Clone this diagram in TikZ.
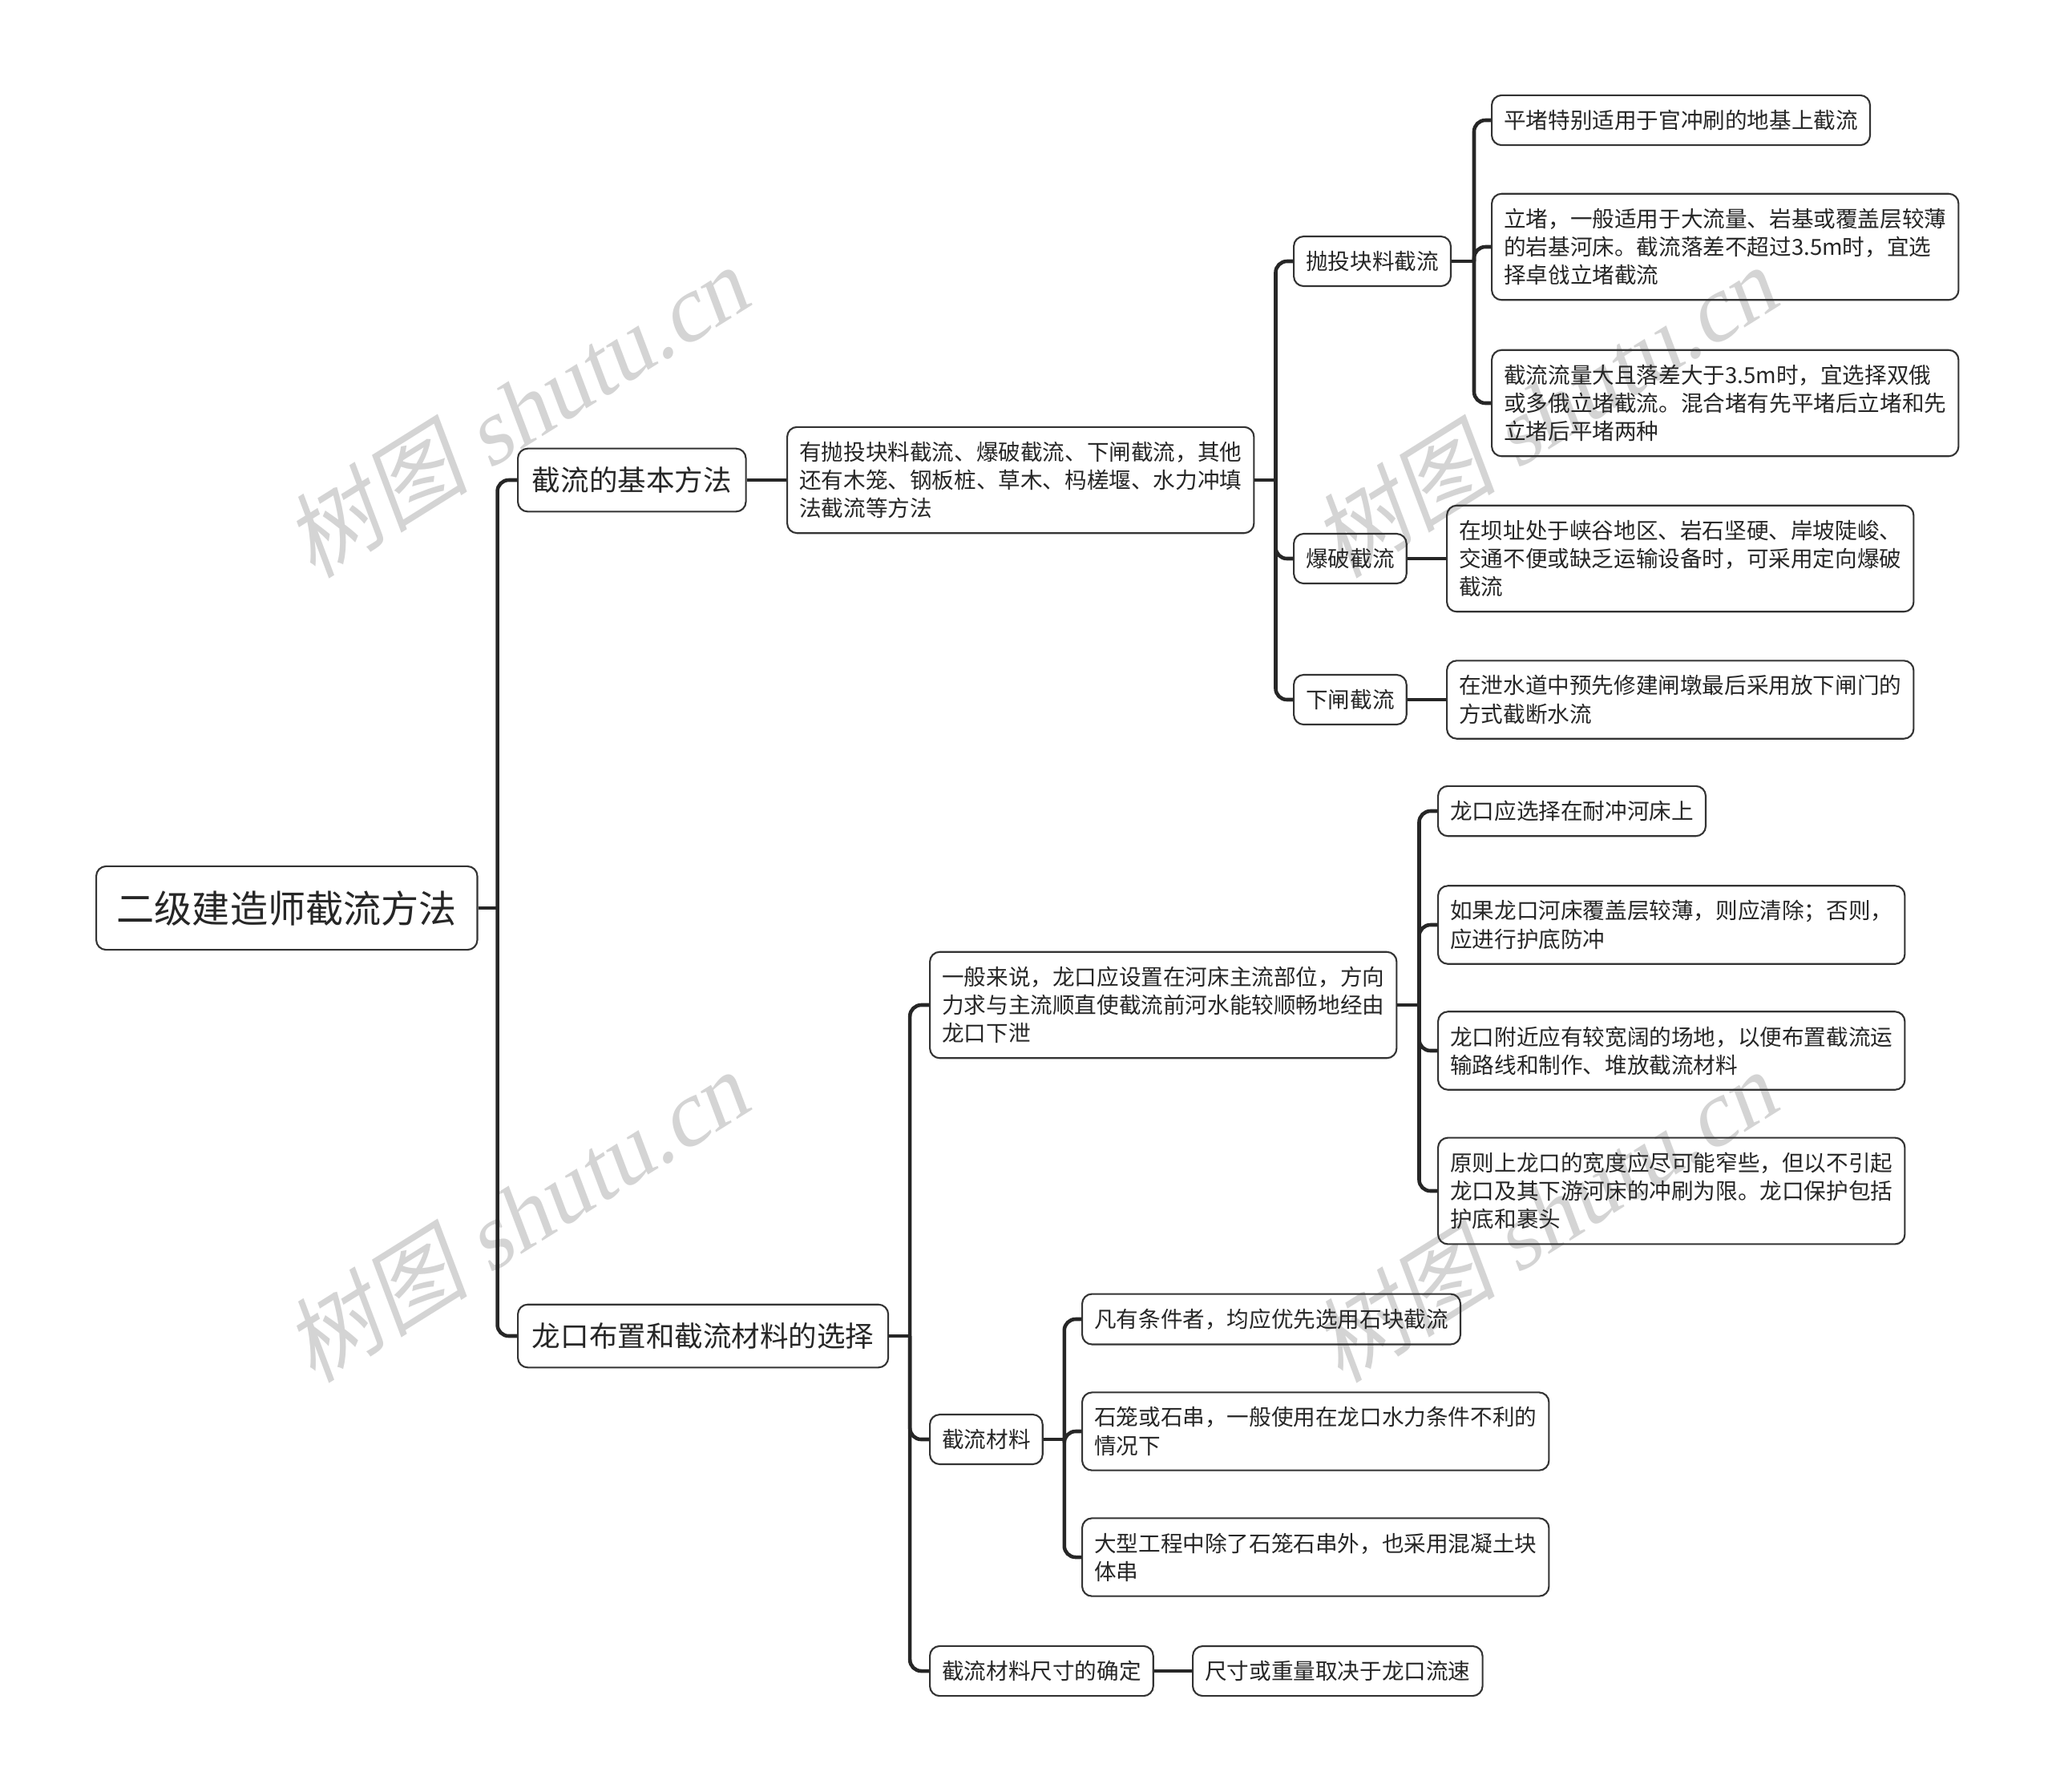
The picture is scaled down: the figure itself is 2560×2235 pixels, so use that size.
\documentclass[tikz,border=0pt]{standalone}
\usepackage{fontspec}
\setmainfont{Noto Sans CJK SC}
\newfontfamily\wmcjk{Noto Sans CJK SC}[FakeSlant=0.2]
\newfontfamily\wmlat{Liberation Serif}[FakeSlant=0.2]
\usepackage{tikz}
\usetikzlibrary{calc}

\begin{document}
\begin{tikzpicture}[
  x=0.01cm, y=-0.01cm,
  box/.style={draw=black!80,rounded corners=3.5pt,align=left,anchor=west,text=black!85,line width=0.6pt},
  leaf/.style={box,font=\fontsize{7.85pt}{10pt}\selectfont,inner xsep=4.3pt,inner ysep=5.2pt},
  mid/.style={box,font=\fontsize{10.1pt}{12pt}\selectfont,inner xsep=5.1pt,inner ysep=6.5pt},
  top/.style={box,font=\fontsize{13.4pt}{16pt}\selectfont,inner xsep=7.3pt,inner ysep=8.6pt},
  link/.style={line width=1.3pt,draw=black!85,rounded corners=4pt},
  wm/.style={text=black!17,rotate=32,font=\fontsize{33pt}{33pt}\selectfont}
]
\useasboundingbox (0,0) rectangle (2560,2235);
\node[wm] (wm1) at (643,514) {\wmcjk 树图 \wmlat shutu.cn};
\node[wm] (wm2) at (1925,514) {\wmcjk 树图 \wmlat shutu.cn};
\node[wm] (wm3) at (643,1518) {\wmcjk 树图 \wmlat shutu.cn};
\node[wm] (wm4) at (1925,1518) {\wmcjk 树图 \wmlat shutu.cn};

\node[top] (root) at (119,1133) {二级建造师截流方法};
\node[mid] (basic) at (645,599) {截流的基本方法};
\node[leaf] (bdesc) at (981,599) {有抛投块料截流、爆破截流、下闸截流，其他\\还有木笼、钢板桩、草木、杩槎堰、水力冲填\\法截流等方法};
\node[leaf] (dump) at (1613,326) {抛投块料截流};
\node[leaf] (flat) at (1860,150) {平堵特别适用于官冲刷的地基上截流};
\node[leaf] (vert) at (1860,308) {立堵，一般适用于大流量、岩基或覆盖层较薄\\的岩基河床。截流落差不超过3.5m时，宜选\\择卓戗立堵截流};
\node[leaf] (mix) at (1860,503) {截流流量大且落差大于3.5m时，宜选择双俄\\或多俄立堵截流。混合堵有先平堵后立堵和先\\立堵后平堵两种};
\node[leaf] (blast) at (1613,697) {爆破截流};
\node[leaf] (blastd) at (1804,697) {在坝址处于峡谷地区、岩石坚硬、岸坡陡峻、\\交通不便或缺乏运输设备时，可采用定向爆破\\截流};
\node[leaf] (gate) at (1613,873) {下闸截流};
\node[leaf] (gated) at (1804,873) {在泄水道中预先修建闸墩最后采用放下闸门的\\方式截断水流};

\node[mid] (layout) at (645,1667) {龙口布置和截流材料的选择};
\node[leaf] (gap) at (1159,1254) {一般来说，龙口应设置在河床主流部位，方向\\力求与主流顺直使截流前河水能较顺畅地经由\\龙口下泄};
\node[leaf] (g1) at (1793,1012) {龙口应选择在耐冲河床上};
\node[leaf] (g2) at (1793,1154) {如果龙口河床覆盖层较薄，则应清除；否则，\\应进行护底防冲};
\node[leaf] (g3) at (1793,1311) {龙口附近应有较宽阔的场地，以便布置截流运\\输路线和制作、堆放截流材料};
\node[leaf] (g4) at (1793,1486) {原则上龙口的宽度应尽可能窄些，但以不引起\\龙口及其下游河床的冲刷为限。龙口保护包括\\护底和裹头};
\node[leaf] (mat) at (1159,1796) {截流材料};
\node[leaf] (m1) at (1349,1646) {凡有条件者，均应优先选用石块截流};
\node[leaf] (m2) at (1349,1786) {石笼或石串，一般使用在龙口水力条件不利的\\情况下};
\node[leaf] (m3) at (1349,1943) {大型工程中除了石笼石串外，也采用混凝土块\\体串};
\node[leaf] (size) at (1159,2085) {截流材料尺寸的确定};
\node[leaf] (sized) at (1487,2085) {尺寸或重量取决于龙口流速};

\coordinate (rootj) at ($(root.east)+(24,0)$);
\coordinate (bdescj) at ($(bdesc.east)+(26,0)$);
\coordinate (dumpj) at ($(dump.east)+(28,0)$);
\coordinate (layoutj) at ($(layout.east)+(26,0)$);
\coordinate (gapj) at ($(gap.east)+(27,0)$);
\coordinate (matj) at ($(mat.east)+(26,0)$);

\draw[link] (root.east) -- (rootj);
\draw[link] (rootj) |- (basic.west);
\draw[link] (rootj) |- (layout.west);
\draw[link] (basic.east) -- (bdesc.west);
\draw[link] (bdesc.east) -- (bdescj);
\draw[link] (bdescj) |- (dump.west);
\draw[link] (bdescj) |- (blast.west);
\draw[link] (bdescj) |- (gate.west);
\draw[link] (dump.east) -- (dumpj);
\draw[link] (dumpj) |- (flat.west);
\draw[link] (dumpj) |- (vert.west);
\draw[link] (dumpj) |- (mix.west);
\draw[link] (blast.east) -- (blastd.west);
\draw[link] (gate.east) -- (gated.west);
\draw[link] (layout.east) -- (layoutj);
\draw[link] (layoutj) |- (gap.west);
\draw[link] (layoutj) |- (mat.west);
\draw[link] (layoutj) |- (size.west);
\draw[link] (gap.east) -- (gapj);
\draw[link] (gapj) |- (g1.west);
\draw[link] (gapj) |- (g2.west);
\draw[link] (gapj) |- (g3.west);
\draw[link] (gapj) |- (g4.west);
\draw[link] (mat.east) -- (matj);
\draw[link] (matj) |- (m1.west);
\draw[link] (matj) |- (m2.west);
\draw[link] (matj) |- (m3.west);
\draw[link] (size.east) -- (sized.west);
\end{tikzpicture}
\end{document}
